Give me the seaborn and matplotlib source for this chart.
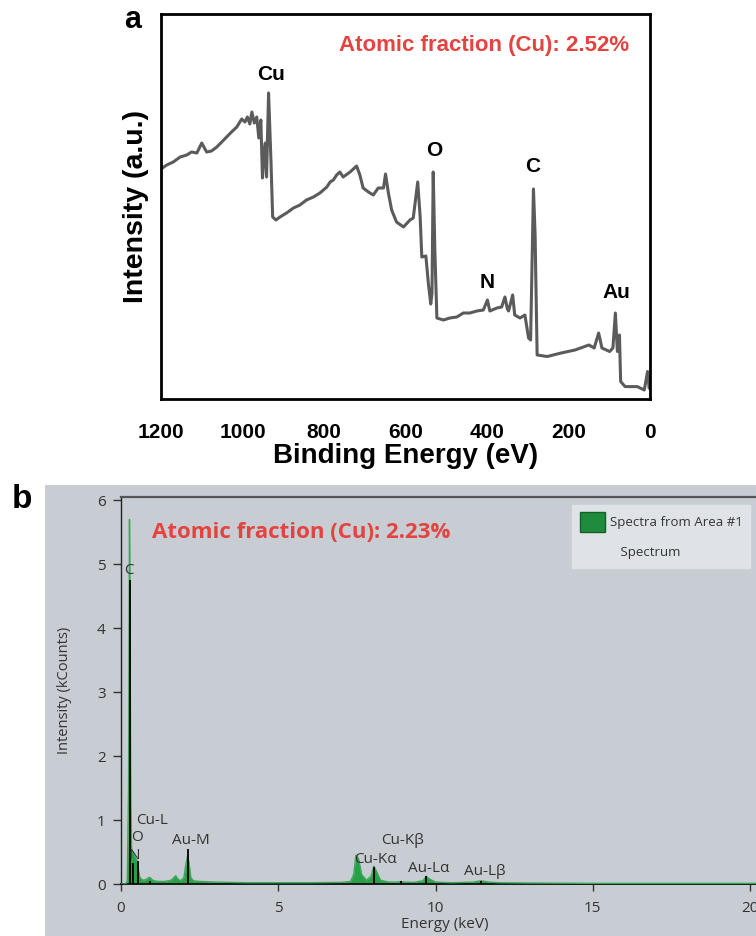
import matplotlib
matplotlib.use("Agg")
import matplotlib.pyplot as plt
from matplotlib.patches import Rectangle, Patch
import seaborn as sns
import pandas as pd

sns.set_theme(style="white")
plt.rcParams['font.family'] = ['Liberation Sans', 'DejaVu Sans']
plt.rcParams['text.color'] = 'black'
plt.rcParams['axes.labelcolor'] = 'black'
plt.rcParams['xtick.color'] = 'black'
plt.rcParams['ytick.color'] = 'black'

# ---------------- Panel a: XPS survey ----------------
xps_be = [1200, 1186, 1170, 1153, 1137, 1125, 1112, 1100, 1088, 1076, 1063, 1051, 1039,
          1027, 1014, 1002, 994, 988, 982, 977, 971, 965, 960, 955, 951, 947, 944, 941,
          936, 930, 926, 918, 908, 892, 875, 859, 843, 826, 810, 793, 785, 777, 769, 761,
          753, 736, 720, 712, 704, 691, 679, 667, 654, 649, 642, 634, 622, 605, 589, 581,
          570, 564, 560, 550, 544, 538, 535, 532, 528, 523, 507, 491, 474, 458, 442, 425,
          409, 399, 393, 376, 364, 356, 350, 347, 337, 332, 319, 307, 298, 293, 286, 282,
          277, 252, 218, 184, 150, 137, 126, 118, 99, 91, 85, 80, 75, 72, 61, 31, 23, 14,
          6, 2]
xps_int = [230, 234, 237, 242, 244, 247, 246, 256, 247, 248, 252, 257, 262,
           267, 272, 280, 277, 282, 275, 287, 276, 282, 261, 279, 221, 247, 256, 222,
           306, 236, 182, 179, 182, 186, 191, 194, 199, 202, 206, 212, 217, 219, 224, 227,
           222, 227, 233, 224, 211, 207, 204, 211, 211, 225, 206, 189, 177, 172, 179, 181,
           217, 182, 142, 143, 116, 95, 106, 227, 149, 81, 79, 81, 82, 86, 86, 88,
           89, 99, 88, 91, 92, 102, 90, 88, 104, 84, 81, 84, 61, 59, 210, 165,
           44, 42.5, 46, 49, 54, 51, 66, 51, 47.5, 51, 86, 47.5, 64, 17.4, 12.4, 12.4, 10.7, 9,
           27.5, 10.7]
xps_peak_labels = ["Cu", "O", "C", "N", "Au"]
xps_peak_be = [930, 530, 287, 400, 82]
xps_peak_y = [325, 248, 232, 116, 106]
xps_ticks = [1200, 1000, 800, 600, 400, 200, 0]

# ---------------- Panel b: EDS spectrum ----------------
eds_kev = [0.0, 0.15, 0.2, 0.24, 0.27, 0.29, 0.31, 0.34, 0.38, 0.42, 0.47, 0.52, 0.56, 0.6,
           0.7, 0.8, 0.88, 0.93, 0.98, 1.05, 1.2, 1.4, 1.6, 1.68, 1.74, 1.8, 1.9, 2.0, 2.06,
           2.12, 2.17, 2.22, 2.3, 2.5, 3.0, 3.5, 4.0, 5.0, 6.0, 7.0, 7.3, 7.4, 7.47, 7.55,
           7.65, 7.8, 7.95, 8.04, 8.12, 8.25, 8.5, 8.8, 8.9, 9.0, 9.3, 9.6, 9.71, 9.8, 10.0,
           10.5, 11.2, 11.44, 11.7, 12.0, 13.0, 15.0, 17.0, 20.6]
eds_kcounts = [0, 0.0, 0.05, 1.5, 5.7, 4.0, 1.2, 0.5, 0.5, 0.45, 0.4, 0.35, 0.2, 0.1,
               0.06, 0.07, 0.1, 0.1, 0.07, 0.05, 0.04, 0.04, 0.06, 0.1, 0.13, 0.08, 0.05, 0.1, 0.3,
               0.45, 0.3, 0.1, 0.05, 0.04, 0.03, 0.025, 0.02, 0.02, 0.02, 0.025, 0.04, 0.15, 0.45, 0.4,
               0.15, 0.06, 0.12, 0.28, 0.2, 0.06, 0.03, 0.03, 0.04, 0.03, 0.025, 0.05, 0.12, 0.08, 0.03,
               0.02, 0.03, 0.05, 0.03, 0.02, 0.015, 0.01, 0.01, 0.01]
eds_marker_kev = [0.277, 0.392, 0.525, 0.93, 2.12, 8.04, 8.9, 9.71, 11.44]
eds_marker_h = [4.75, 0.33, 0.36, 0.05, 0.55, 0.27, 0.04, 0.12, 0.05]
eds_labels = ["C", "N", "O", "Cu-L", "Au-M", "Cu-Kα", "Cu-Kβ", "Au-Lα", "Au-Lβ"]
eds_label_x = [0.26, 0.43, 0.52, 0.47, 1.63, 7.42, 8.27, 9.13, 10.92]
eds_label_y = [4.9, 0.44, 0.72, 1.0, 0.68, 0.39, 0.68, 0.25, 0.19]
eds_label_ha = ["center", "center", "center", "left", "left", "left", "left", "left", "left"]
eds_yticks = [0, 1, 2, 3, 4, 5, 6]
eds_xticks = [0, 5, 10, 15, 20]

W, H = 756, 936
fig = plt.figure(figsize=(W / 100, H / 100), dpi=100)
fig.patch.set_facecolor("white")

def fx(px):
    return px / W

def fy(py):
    return 1 - py / H

# ---- panel a ----
axa = fig.add_axes([fx(161), fy(399), fx(650) - fx(161), fy(14) - fy(399)])
df_a = pd.DataFrame({"be": xps_be, "intensity": xps_int})
sns.lineplot(data=df_a, x="be", y="intensity", ax=axa, color="#5b5b5b", lw=2.2,
             sort=False, estimator=None)
axa.set_xlim(1200, 0)
axa.set_ylim(0, 385)
axa.set_xticks(xps_ticks)
axa.set_xticklabels([str(t) for t in xps_ticks], fontsize=15, fontweight="bold")
axa.set_yticks([])
axa.tick_params(axis="x", length=0, pad=17, colors="black")
for s in axa.spines.values():
    s.set_color("black")
    s.set_linewidth(2)
    s.set_visible(True)
axa.set_xlabel("Binding Energy (eV)", fontsize=20, fontweight="bold", labelpad=1)
axa.set_ylabel("Intensity (a.u.)", fontsize=20.5, fontweight="bold")
axa.yaxis.set_label_coords(-0.025, 0.5)
for lab, bx, by in zip(xps_peak_labels, xps_peak_be, xps_peak_y):
    axa.text(bx, by, lab, fontsize=15, fontweight="bold", ha="center", va="center")
axa.text(52, 354, "Atomic fraction (Cu): 2.52%", color="#e4433f", fontsize=16,
         fontweight="bold", ha="right", va="center")
fig.text(fx(133), fy(20), "a", fontsize=22, fontweight="bold", ha="center", va="center")

# ---- panel b ----
bg = "#c7cdd3"
fig.patches.append(Rectangle((fx(45), 0), 1 - fx(45), fy(485), transform=fig.transFigure,
                             facecolor=bg, edgecolor="none", zorder=-5))
fig.text(fx(22), fy(499), "b", fontsize=24, fontweight="bold", ha="center", va="center")

px_per_kev = 31.45
xmax = 20.6
axb = fig.add_axes([fx(121), fy(884), xmax * px_per_kev / W, fy(497) - fy(884)])
axb.set_zorder(2)
axb.set_facecolor(bg)
df_b = pd.DataFrame({"energy": eds_kev, "kcounts": eds_kcounts})
axb.fill_between(eds_kev, eds_kcounts, color="#27a046", lw=0, zorder=2)
sns.lineplot(data=df_b, x="energy", y="kcounts", ax=axb, color="#3aa85a", lw=1.0,
             sort=False, estimator=None, zorder=3)
axb.vlines(eds_marker_kev, 0, eds_marker_h, color="black", lw=1.3, zorder=4)
axb.set_xlim(0, xmax)
axb.set_ylim(0, 6.05)
axb.set_xticks(eds_xticks)
axb.set_yticks(eds_yticks)
tfont = ["Open Sans", "DejaVu Sans"]
axb.set_xticklabels([str(t) for t in eds_xticks], fontsize=11, family=tfont)
axb.set_yticklabels([str(t) for t in eds_yticks], fontsize=11, family=tfont)
axb.tick_params(axis="y", direction="out", length=6, width=1, pad=5, colors="#333333",
                left=True)
axb.tick_params(axis="x", direction="out", length=5, width=1, pad=7, colors="#333333",
                bottom=True)
axb.spines["left"].set_color("#222222")
axb.spines["left"].set_linewidth(1.0)
axb.spines["bottom"].set_color("#111111")
axb.spines["bottom"].set_linewidth(1.3)
axb.spines["top"].set_color("#555555")
axb.spines["top"].set_linewidth(1.6)
axb.spines["right"].set_visible(False)
axb.set_xlabel("Energy (keV)", fontsize=11, family=tfont, color="#333333", labelpad=1)
axb.set_ylabel("Intensity (kCounts)", fontsize=10.5, family=tfont, color="#333333")
axb.yaxis.set_label_coords(-0.076, 0.5)
for lab, lx, ly, ha in zip(eds_labels, eds_label_x, eds_label_y, eds_label_ha):
    axb.text(lx, ly, lab, fontsize=11, family=tfont, color="#333333", ha=ha, va="center",
             zorder=5)
axb.text(1.0, 5.5, "Atomic fraction (Cu): 2.23%", color="#e4433f", fontsize=16,
         fontweight="bold", family=tfont, ha="left", va="center")

handles = [Patch(facecolor="#1f8b3d", edgecolor="#14602a"),
           Patch(facecolor="none", edgecolor="none")]
leg = axb.legend(handles, ["Spectra from Area #1", "   Spectrum"], loc="upper right",
                 bbox_to_anchor=(fx(750), fy(505)), bbox_transform=fig.transFigure,
                 borderaxespad=0, frameon=True, fancybox=False, framealpha=1,
                 prop={"family": tfont, "size": 9.5}, handlelength=1.9, handleheight=1.9,
                 handletextpad=0.4, labelspacing=0.75, borderpad=0.55)
leg.get_frame().set_facecolor("#dfe3e7")
leg.get_frame().set_edgecolor("#dfe3e7")
for t in leg.get_texts():
    t.set_color("#333333")

fig.savefig("out.png", dpi=100)
